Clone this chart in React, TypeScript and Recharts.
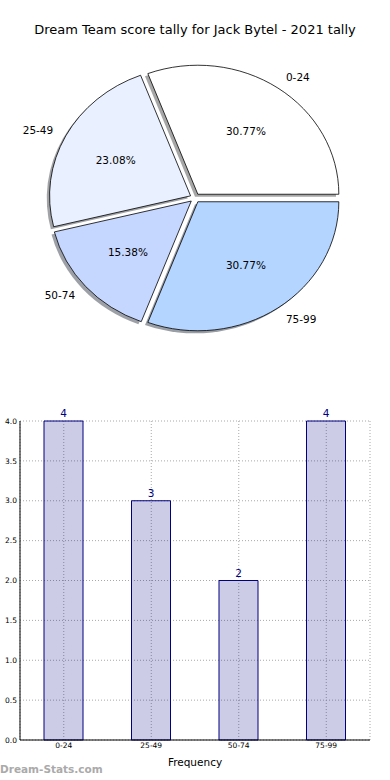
import { PieChart, Pie, BarChart, Bar, XAxis, YAxis, CartesianGrid, LabelList } from "recharts";

const categories = ["0-24", "25-49", "50-74", "75-99"];
const counts = [4, 3, 2, 4];
const sliceColors = ["#ffffff", "#e9f0ff", "#c6d7ff", "#b4d5ff"];
const yTicks = [0, 0.5, 1, 1.5, 2, 2.5, 3, 3.5, 4];

const FONT = "'DejaVu Sans', sans-serif";
const RAD = Math.PI / 180;
// matplotlib drew the pie squashed, so the wedges are ellipses
const ASPECT = 0.915;
const EXPLODE = 5;

const pieData = categories.map((name, i) => ({ name, value: counts[i] }));
const barData = categories.map((name, i) => ({ name, count: counts[i] }));

function shade(hex: string, f: number) {
  const n = parseInt(hex.slice(1), 16);
  const r = Math.round(((n >> 16) & 255) * f);
  const g = Math.round(((n >> 8) & 255) * f);
  const b = Math.round((n & 255) * f);
  return `rgb(${r},${g},${b})`;
}

function renderSlice(props: any) {
  const { cx, cy, startAngle, endAngle, midAngle, outerRadius, percent, index } = props;
  const rx = outerRadius;
  const ry = outerRadius * ASPECT;
  const vx = cx + EXPLODE * Math.cos(midAngle * RAD);
  const vy = cy - EXPLODE * ASPECT * Math.sin(midAngle * RAD);
  const pt = (a: number, r = 1) => [vx + rx * r * Math.cos(a * RAD), vy - ry * r * Math.sin(a * RAD)];
  const [x0, y0] = pt(startAngle);
  const [x1, y1] = pt(endAngle);
  const large = Math.abs(endAngle - startAngle) > 180 ? 1 : 0;
  const sweep = endAngle > startAngle ? 0 : 1;
  const d = `M${vx},${vy} L${x0},${y0} A${rx},${ry} 0 ${large} ${sweep} ${x1},${y1} Z`;
  const [lx, ly] = pt(midAngle, 1.1);
  const [px, py] = pt(midAngle, 0.6);
  const color = sliceColors[index % sliceColors.length];
  return (
    <g key={`slice-${index}`}>
      <path d={d} fill={shade(color, 0.3)} fillOpacity={0.5} transform={`translate(${-0.02 * rx},${0.02 * ry})`} />
      <path d={d} fill={color} stroke="#000" strokeWidth={0.8} />
      <text x={px} y={py} textAnchor="middle" dominantBaseline="central" fontSize={10.5} fontFamily={FONT} fill="#000">
        {(percent * 100).toFixed(2)}%
      </text>
      <text
        x={lx}
        y={ly}
        textAnchor={Math.cos(midAngle * RAD) > 0 ? "start" : "end"}
        dominantBaseline="central"
        fontSize={10.5}
        fontFamily={FONT}
        fill="#000"
      >
        {categories[index]}
      </text>
    </g>
  );
}

export default function App() {
  return (
    <div style={{ position: "absolute", left: 0, top: 0, width: 390, height: 780, background: "#fff", fontFamily: FONT }}>
      <div style={{ position: "absolute", top: 21, left: 0, width: 390, textAlign: "center", fontSize: 13, lineHeight: "18px", color: "#000" }}>
        Dream Team score tally for Jack Bytel - 2021 tally
      </div>

      <div style={{ position: "absolute", top: 0, left: 0 }}>
        <PieChart width={390} height={360} margin={{ top: 0, right: 0, bottom: 0, left: 0 }}>
          <Pie
            data={pieData}
            dataKey="value"
            nameKey="name"
            cx={195}
            cy={198}
            outerRadius={141}
            startAngle={0}
            endAngle={360}
            fill="none"
            stroke="none"
            labelLine={false}
            label={renderSlice}
            isAnimationActive={false}
          />
        </PieChart>
      </div>

      <div style={{ position: "absolute", top: 400, left: 0 }}>
        <BarChart width={390} height={380} data={barData} margin={{ top: 21, right: 20, bottom: 0, left: 0 }} barCategoryGap={0}>
          <CartesianGrid stroke="#a8a8a8" strokeDasharray="1 2" />
          <XAxis
            dataKey="name"
            height={40}
            tickSize={0}
            tickMargin={3}
            tick={{ fontSize: 7.5, fill: "#000", fontFamily: FONT }}
            axisLine={{ stroke: "#000" }}
            label={{ value: "Frequency", position: "insideBottom", offset: 14, fontSize: 10.5, fill: "#000", fontFamily: FONT }}
          />
          <XAxis xAxisId="top" dataKey="name" orientation="top" height={0} tick={false} tickLine={false} axisLine={{ stroke: "#000" }} />
          <YAxis
            width={20}
            domain={[0, 4]}
            ticks={yTicks}
            tickSize={0}
            tickMargin={3}
            tickFormatter={(v: number) => v.toFixed(1)}
            tick={{ fontSize: 7.5, fill: "#000", fontFamily: FONT }}
            axisLine={{ stroke: "#000" }}
          />
          <YAxis yAxisId="right" orientation="right" width={0} domain={[0, 4]} tick={false} tickLine={false} axisLine={{ stroke: "#000" }} />
          <Bar dataKey="count" fill="#000080" fillOpacity={0.2} stroke="#000080" strokeWidth={1} barSize={39} isAnimationActive={false}>
            <LabelList dataKey="count" position="top" offset={4} fill="#000080" fontSize={10.5} fontFamily={FONT} />
          </Bar>
        </BarChart>
      </div>

      <div style={{ position: "absolute", left: 0, top: 762, fontSize: 10.5, fontWeight: "bold", color: "#aaaaaa", lineHeight: "14px" }}>
        Dream-Stats.com
      </div>
    </div>
  );
}
